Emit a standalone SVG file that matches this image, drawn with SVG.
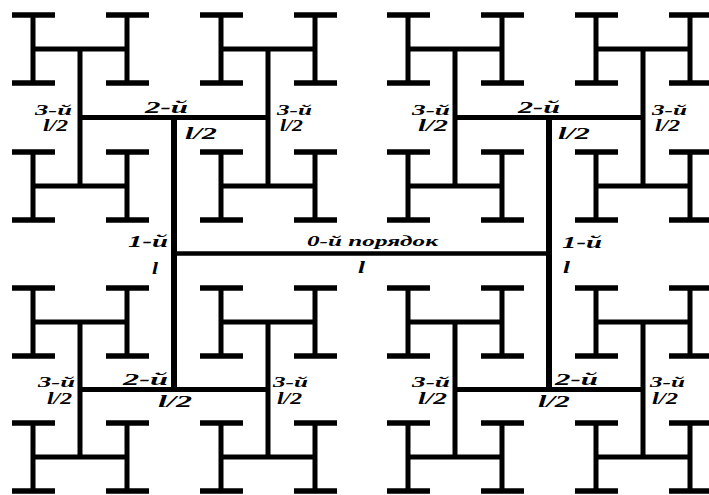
<svg xmlns="http://www.w3.org/2000/svg" xmlns:xlink="http://www.w3.org/1999/xlink" width="709" height="495" viewBox="0 0 709 495">
<style>
.ln{stroke:#000;stroke-width:5;fill:none;stroke-linecap:butt}
.bar{stroke:#000;stroke-width:5.5;fill:none}
.l1{stroke:#000;stroke-width:6;fill:none}
.l0{stroke:#000;stroke-width:4.5;fill:none}
.s3{font-size:15px}
.s2{font-size:16px}
.s1{font-size:17px}
</style>
<defs>
<g id="H">
<path class="ln" d="M-47,0H47M-47,-34V34M47,-34V34"/>
<path class="bar" d="M-68,-34H-25M-68,34H-25M26,-34H69M26,34H69"/>
</g>
</defs>
<rect width="709" height="495" fill="#fff"/>
<g id="connectors">
<path class="ln" d="M80,49V186M268,49V186M455,49V186M643,49V186M80,322V457M268,322V457M455,322V457M643,322V457"/>
<path class="ln" d="M80,117.5H268M455,117.5H643M80,389.5H268M455,389.5H643"/>
<path class="l1" d="M174,117.5V389.5M549,117.5V389.5"/>
<path class="l0" d="M174,253.5H549"/>
</g>
<g id="h-1-1"><use xlink:href="#H" x="80" y="49"/></g>
<g id="h-1-2"><use xlink:href="#H" x="268" y="49"/></g>
<g id="h-1-3"><use xlink:href="#H" x="455" y="49"/></g>
<g id="h-1-4"><use xlink:href="#H" x="643" y="49"/></g>
<g id="h-2-1"><use xlink:href="#H" x="80" y="186"/></g>
<g id="h-2-2"><use xlink:href="#H" x="268" y="186"/></g>
<g id="h-2-3"><use xlink:href="#H" x="455" y="186"/></g>
<g id="h-2-4"><use xlink:href="#H" x="643" y="186"/></g>
<g id="h-3-1"><use xlink:href="#H" x="80" y="322"/></g>
<g id="h-3-2"><use xlink:href="#H" x="268" y="322"/></g>
<g id="h-3-3"><use xlink:href="#H" x="455" y="322"/></g>
<g id="h-3-4"><use xlink:href="#H" x="643" y="322"/></g>
<g id="h-4-1"><use xlink:href="#H" x="80" y="457"/></g>
<g id="h-4-2"><use xlink:href="#H" x="268" y="457"/></g>
<g id="h-4-3"><use xlink:href="#H" x="455" y="457"/></g>
<g id="h-4-4"><use xlink:href="#H" x="643" y="457"/></g>
<g id="labels" font-family="'Liberation Serif', 'Times New Roman', serif" font-style="italic" font-weight="bold" fill="#000">
<text class="s3" x="35" y="115" textLength="37" lengthAdjust="spacingAndGlyphs">3-й</text>
<text class="s2" x="43" y="131" textLength="25" lengthAdjust="spacingAndGlyphs">l/2</text>
<text class="s2" x="145" y="113" textLength="43" lengthAdjust="spacingAndGlyphs">2-й</text>
<text class="s1" x="185" y="139" textLength="32" lengthAdjust="spacingAndGlyphs">l/2</text>
<text class="s3" x="277" y="115" textLength="35" lengthAdjust="spacingAndGlyphs">3-й</text>
<text class="s2" x="280" y="131" textLength="23" lengthAdjust="spacingAndGlyphs">l/2</text>
<text class="s3" x="412" y="115" textLength="38" lengthAdjust="spacingAndGlyphs">3-й</text>
<text class="s2" x="418" y="131" textLength="30" lengthAdjust="spacingAndGlyphs">l/2</text>
<text class="s2" x="518" y="113" textLength="42" lengthAdjust="spacingAndGlyphs">2-й</text>
<text class="s1" x="558" y="139" textLength="32" lengthAdjust="spacingAndGlyphs">l/2</text>
<text class="s3" x="652" y="115" textLength="35" lengthAdjust="spacingAndGlyphs">3-й</text>
<text class="s2" x="655" y="131" textLength="25" lengthAdjust="spacingAndGlyphs">l/2</text>
<text class="s1" x="128" y="247" textLength="40" lengthAdjust="spacingAndGlyphs">1-й</text>
<text class="s1" x="152" y="274" textLength="6" lengthAdjust="spacingAndGlyphs">l</text>
<text class="s3" x="307" y="246" textLength="131" lengthAdjust="spacingAndGlyphs">0-й порядок</text>
<text class="s1" x="358" y="273" textLength="7" lengthAdjust="spacingAndGlyphs">l</text>
<text class="s1" x="562" y="248" textLength="40" lengthAdjust="spacingAndGlyphs">1-й</text>
<text class="s1" x="563" y="273" textLength="7" lengthAdjust="spacingAndGlyphs">l</text>
<text class="s3" x="38" y="387" textLength="37" lengthAdjust="spacingAndGlyphs">3-й</text>
<text class="s2" x="47" y="404" textLength="25" lengthAdjust="spacingAndGlyphs">l/2</text>
<text class="s2" x="123" y="385" textLength="45" lengthAdjust="spacingAndGlyphs">2-й</text>
<text class="s1" x="158" y="407" textLength="34" lengthAdjust="spacingAndGlyphs">l/2</text>
<text class="s3" x="273" y="387" textLength="35" lengthAdjust="spacingAndGlyphs">3-й</text>
<text class="s2" x="277" y="404" textLength="25" lengthAdjust="spacingAndGlyphs">l/2</text>
<text class="s3" x="412" y="387" textLength="38" lengthAdjust="spacingAndGlyphs">3-й</text>
<text class="s2" x="418" y="404" textLength="29" lengthAdjust="spacingAndGlyphs">l/2</text>
<text class="s2" x="555" y="385" textLength="43" lengthAdjust="spacingAndGlyphs">2-й</text>
<text class="s1" x="538" y="407" textLength="32" lengthAdjust="spacingAndGlyphs">l/2</text>
<text class="s3" x="650" y="387" textLength="35" lengthAdjust="spacingAndGlyphs">3-й</text>
<text class="s2" x="652" y="404" textLength="26" lengthAdjust="spacingAndGlyphs">l/2</text>
</g>
</svg>
